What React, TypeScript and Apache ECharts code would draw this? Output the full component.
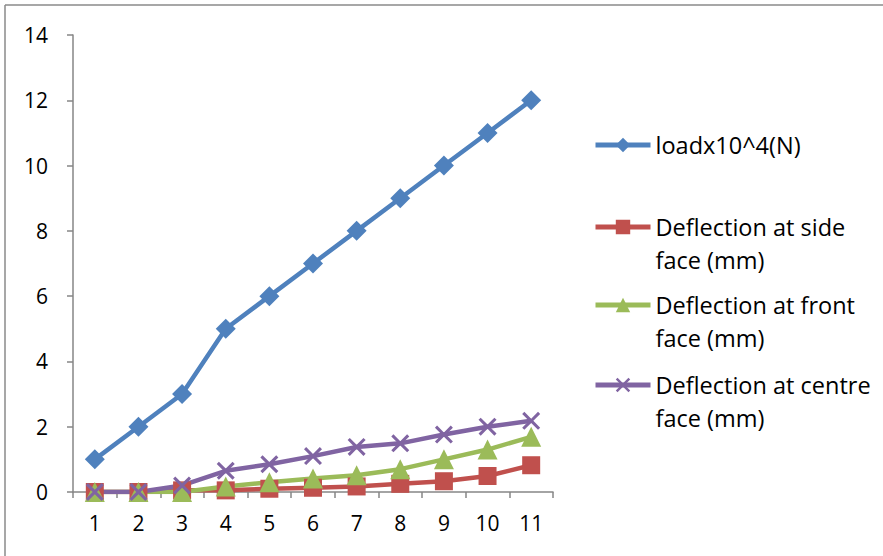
import React, { useEffect, useRef } from "react";
import * as echarts from "echarts";

const categories = ["1", "2", "3", "4", "5", "6", "7", "8", "9", "10", "11"];
const loadValues = [1, 2, 3, 5, 6, 7, 8, 9, 10, 11, 12];
const sideValues = [0, 0, 0.05, 0.05, 0.1, 0.13, 0.17, 0.25, 0.33, 0.49, 0.82];
const frontValues = [0, 0, 0, 0.17, 0.3, 0.41, 0.51, 0.7, 1.0, 1.3, 1.69];
const centreValues = [0, 0, 0.2, 0.65, 0.85, 1.1, 1.38, 1.49, 1.76, 2.0, 2.18];
const seriesNames = [
  "loadx10^4(N)",
  "Deflection at side face (mm)",
  "Deflection at front face (mm)",
  "Deflection at centre face (mm)",
];
const legendLabels = [
  "loadx10^4(N)",
  "\nDeflection at side\nface (mm)",
  "\nDeflection at front\nface (mm)",
  "\nDeflection at centre\nface (mm)",
];

const FONT = "'Open Sans', sans-serif";
const AXIS_COLOR = "#868686";
const X_SYMBOL = "path://M0,1.2L1.2,0L5,3.8L8.8,0L10,1.2L6.2,5L10,8.8L8.8,10L5,6.2L1.2,10L0,8.8L3.8,5Z";

export default function App() {
  const ref = useRef<HTMLDivElement>(null);

  useEffect(() => {
    if (!ref.current) return;
    const chart = echarts.init(ref.current, null, { renderer: "svg" });
    const colors = ["#4F81BD", "#C0504D", "#9BBB59", "#8064A2"];
    const symbols = ["diamond", "rect", "triangle", X_SYMBOL];
    const sizes = [20, 18, 20, 18];
    const dataSets = [loadValues, sideValues, frontValues, centreValues];
    const iconCenters = [145, 227, 305, 385];

    const legends = seriesNames.map((name, i) => {
      const twoLine = i > 0;
      return {
        orient: "vertical",
        left: 593,
        top: twoLine ? iconCenters[i] - 49.5 : iconCenters[i] - 16.5,
        padding: 0,
        itemWidth: 55,
        itemHeight: 18,
        data: [name],
        formatter: () => legendLabels[i],
        lineStyle: { width: 5 },
        textStyle: {
          fontFamily: FONT,
          fontSize: 23.5,
          color: "#000",
          lineHeight: 33,
        },
      };
    });

    chart.setOption({
      animation: false,
      backgroundColor: "#fff",
      color: colors,
      grid: { left: 73, top: 35, width: 480, height: 457, containLabel: false },
      legend: legends,
      xAxis: {
        type: "category",
        data: categories,
        boundaryGap: true,
        axisLine: { lineStyle: { color: AXIS_COLOR, width: 1.5 } },
        axisTick: { show: true, length: 6, lineStyle: { color: AXIS_COLOR, width: 1.5 } },
        axisLabel: { fontFamily: FONT, fontSize: 21, color: "#000", margin: 20 },
        splitLine: { show: false },
      },
      yAxis: {
        type: "value",
        min: 0,
        max: 14,
        interval: 2,
        axisLine: { show: true, lineStyle: { color: AXIS_COLOR, width: 1.5 } },
        axisTick: { show: true, length: 6, lineStyle: { color: AXIS_COLOR, width: 1.5 } },
        axisLabel: { fontFamily: FONT, fontSize: 21, color: "#000", margin: 25 },
        splitLine: { show: false },
      },
      graphic: [
        { type: "line", shape: { x1: 5, y1: 5, x2: 883, y2: 5 }, style: { stroke: "#8a8a8a", lineWidth: 1.5 } },
        { type: "line", shape: { x1: 5, y1: 5, x2: 5, y2: 556 }, style: { stroke: "#8a8a8a", lineWidth: 1.5 } },
      ],
      series: seriesNames.map((name, i) => ({
        name,
        type: "line",
        data: dataSets[i],
        symbol: symbols[i],
        symbolSize: sizes[i],
        showAllSymbol: true,
        lineStyle: { width: 4.5, color: colors[i] },
        itemStyle: { color: colors[i] },
        emphasis: { disabled: true },
      })),
    });
    return () => chart.dispose();
  }, []);

  return (
    <div
      ref={ref}
      style={{ position: "fixed", left: 0, top: 0, width: 883, height: 556 }}
    />
  );
}
